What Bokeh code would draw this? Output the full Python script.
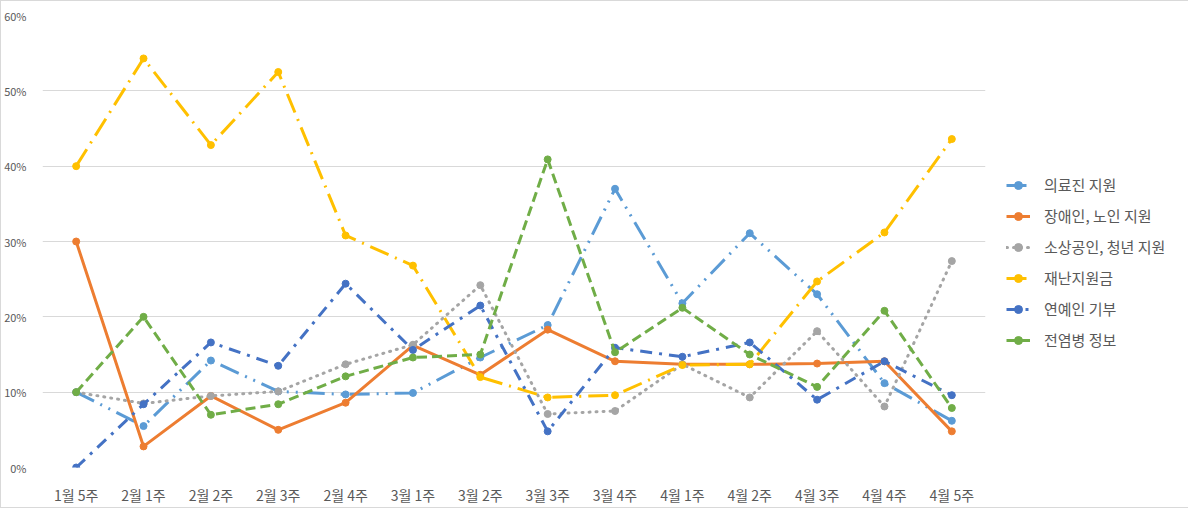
from bokeh.plotting import figure
from bokeh.models import FixedTicker, PrintfTickFormatter, Legend, LegendItem, Range1d, FactorRange
from bokeh.embed import file_html
from bokeh.resources import INLINE

weeks = ["1월 5주", "2월 1주", "2월 2주", "2월 3주", "2월 4주", "3월 1주", "3월 2주",
         "3월 3주", "3월 4주", "4월 1주", "4월 2주", "4월 3주", "4월 4주", "4월 5주"]

medical = [10.0, 5.5, 14.2, 10.1, 9.7, 9.9, 14.6, 18.9, 37.0, 21.8, 31.1, 23.0, 11.2, 6.2]
disabled_elderly = [30.0, 2.8, 9.5, 5.0, 8.6, 16.2, 12.3, 18.3, 14.1, 13.7, 13.7, 13.8, 14.1, 4.8]
small_business = [10.0, 8.5, 9.5, 10.1, 13.7, 16.3, 24.2, 7.1, 7.5, 13.7, 9.3, 18.1, 8.1, 27.4]
disaster_fund = [40.0, 54.3, 42.8, 52.5, 30.8, 26.8, 12.0, 9.3, 9.6, 13.6, 13.7, 24.7, 31.2, 43.6]
celebrity = [0.0, 8.4, 16.6, 13.5, 24.4, 15.6, 21.5, 4.8, 15.9, 14.7, 16.6, 9.0, 14.1, 9.6]
epidemic = [10.0, 20.0, 7.0, 8.4, 12.1, 14.6, 15.0, 40.9, 15.3, 21.2, 15.0, 10.7, 20.8, 7.9]

series_names = ["의료진 지원", "장애인, 노인 지원", "소상공인, 청년 지원", "재난지원금", "연예인 기부", "전염병 정보"]
series_values = [medical, disabled_elderly, small_business, disaster_fund, celebrity, epidemic]
colors = ["#5B9BD5", "#ED7D31", "#A5A5A5", "#FFC000", "#4472C4", "#70AD47"]
dashes = ["20 7 2 7 2 7", "solid", "1 6", "20 7 2 7", "12 7 3 7", "10 5"]
caps = ["butt", "butt", "round", "butt", "butt", "butt"]

FONT = "Noto Sans CJK KR"
TXT = "#595959"

p = figure(frame_width=943, frame_height=452, x_range=FactorRange(*weeks, range_padding=0),
           y_range=Range1d(0, 60), output_backend="svg", toolbar_location=None,
           min_border_left=31, min_border_right=190, min_border_top=14, min_border_bottom=34)
p.styles = {"border": "1px solid #D9D9D9"}
p.outline_line_color = None
p.background_fill_color = "white"

p.xgrid.grid_line_color = None
p.ygrid.grid_line_color = "#D9D9D9"
p.ygrid.grid_line_width = 1
p.ygrid.ticker = FixedTicker(ticks=[0, 10, 20, 30, 40, 50, 60])

p.yaxis.ticker = FixedTicker(ticks=[0, 10, 20, 30, 40, 50, 60])
p.yaxis.formatter = PrintfTickFormatter(format="%d%%")
p.yaxis.axis_line_color = None
p.yaxis.major_tick_line_color = None
p.yaxis.minor_tick_line_color = None
p.yaxis.major_label_text_font = FONT
p.yaxis.major_label_text_font_size = "11px"
p.yaxis.major_label_text_color = TXT
p.yaxis.major_label_standoff = 10

p.xaxis.axis_line_color = None
p.xaxis.major_tick_line_color = None
p.xaxis.minor_tick_line_color = None
p.xaxis.major_label_text_font = FONT
p.xaxis.major_label_text_font_size = "14px"
p.xaxis.major_label_text_color = TXT
p.xaxis.major_label_standoff = 11

items = []
for name, vals, c, d, cap in zip(series_names, series_values, colors, dashes, caps):
    r1 = p.line(weeks, vals, line_color=c, line_width=3, line_dash=d, line_cap=cap)
    r2 = p.scatter(weeks, vals, marker="circle", size=7, fill_color=c, line_color=c)
    items.append(LegendItem(label=name, renderers=[r1, r2]))

legend = Legend(items=items, location="top_left", orientation="vertical",
                title=" ", title_text_font_size="1px", title_standoff=137,
                glyph_width=24, glyph_height=20, label_height=20, spacing=10,
                label_standoff=14, padding=0, margin=21,
                label_text_font=FONT, label_text_font_size="15px", label_text_color=TXT,
                border_line_color=None, background_fill_alpha=0)
p.add_layout(legend, "right")

open("out.html", "w").write(file_html(p, INLINE))
